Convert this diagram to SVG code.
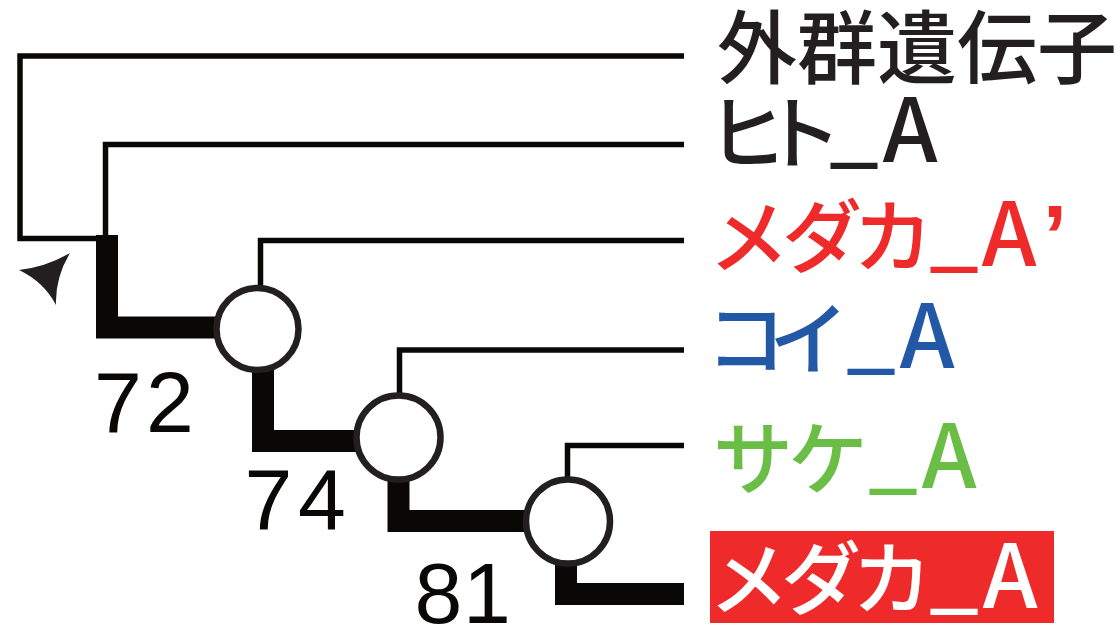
<svg xmlns="http://www.w3.org/2000/svg" width="1120" height="627" viewBox="0 0 1120 627">
<style>
.thin{fill:none;stroke:#0a0806;stroke-width:5.5;stroke-linejoin:miter;stroke-linecap:butt}
.thick{fill:none;stroke:#0a0806;stroke-width:22;stroke-linejoin:miter;stroke-linecap:butt}
.node{fill:#ffffff;stroke:#231f20;stroke-width:6.5}
.num{font-family:"Liberation Sans",Arial,sans-serif;font-size:86px;fill:#0a0806;text-anchor:middle}
.lab{font-family:"Noto Sans CJK JP","Noto Sans",sans-serif;font-size:80px;font-weight:500;text-anchor:middle}
.lat{font-size:88px}
.q{font-family:"Liberation Sans",Arial,sans-serif;font-size:88px;font-weight:700}
</style>
<rect x="0" y="0" width="1120" height="627" fill="#ffffff"/>
<g id="connectors">
  <path class="thin" d="M684,56 H20 V238.5 H100"/>
  <path class="thin" d="M684,144.5 H105.5 V236"/>
  <path class="thin" d="M684,240.5 H260.5 V288"/>
  <path class="thin" d="M684,350 H399.5 V396"/>
  <path class="thin" d="M684,445.5 H567.5 V480"/>
  <path class="thick" d="M107,235 V327.5 H220"/>
  <path class="thick" d="M263,370 V441 H360"/>
  <path class="thick" d="M398.5,480 V521 H530"/>
  <path class="thick" d="M566,562 V594 H684"/>
</g>
<g id="root">
  <path d="M19,270 Q46,267 70,253 Q55,278 56,305 Q44,282 19,270 Z" fill="#231f20"/>
</g>
<g id="node72">
  <circle class="node" cx="257.5" cy="329" r="41"/>
  <text class="num"><tspan x="118" y="432">7</tspan><tspan x="170" y="432">2</tspan></text>
</g>
<g id="node74">
  <circle class="node" cx="398.5" cy="437.5" r="42"/>
  <text class="num"><tspan x="268.5" y="529">7</tspan><tspan x="322" y="529">4</tspan></text>
</g>
<g id="node81">
  <circle class="node" cx="568" cy="521.5" r="42"/>
  <text class="num"><tspan x="438.5" y="623">8</tspan><tspan x="487" y="623">1</tspan></text>
</g>
<g id="leaf-outgroup">
  <text class="lab" fill="#231f20"><tspan x="757" y="77">外</tspan><tspan x="837" y="77">群</tspan><tspan x="917" y="77">遺</tspan><tspan x="997" y="77">伝</tspan><tspan x="1077" y="77">子</tspan></text>
</g>
<g id="leaf-human">
  <text class="lab" fill="#231f20"><tspan x="747" y="162">ヒ</tspan><tspan x="802" y="162">ト</tspan><tspan class="lat" x="854" y="156">_</tspan><tspan class="lat" x="910" y="162">A</tspan></text>
</g>
<g id="leaf-medaka-a2">
  <text class="lab" fill="#ee2a2b"><tspan x="749" y="266">メ</tspan><tspan x="822" y="266">ダ</tspan><tspan x="893" y="266">カ</tspan><tspan class="lat" x="954" y="260">_</tspan><tspan class="lat" x="1009" y="266">A</tspan><tspan class="q" x="1055" y="266">’</tspan></text>
</g>
<g id="leaf-koi">
  <text class="lab" fill="#2358a6"><tspan x="746" y="368">コ</tspan><tspan x="809" y="368">イ</tspan><tspan class="lat" x="871" y="362">_</tspan><tspan class="lat" x="927" y="368">A</tspan></text>
</g>
<g id="leaf-sake">
  <text class="lab" fill="#6abd45"><tspan x="753" y="488">サ</tspan><tspan x="828" y="488">ケ</tspan><tspan class="lat" x="893" y="482">_</tspan><tspan class="lat" x="949" y="488">A</tspan></text>
</g>
<g id="leaf-medaka-a">
  <rect x="710" y="531" width="344" height="92" fill="#ee2a2b"/>
  <text class="lab" fill="#ffffff"><tspan x="749" y="608">メ</tspan><tspan x="821" y="608">ダ</tspan><tspan x="892" y="608">カ</tspan><tspan class="lat" x="954" y="602">_</tspan><tspan class="lat" x="1010" y="608">A</tspan></text>
</g>
</svg>
